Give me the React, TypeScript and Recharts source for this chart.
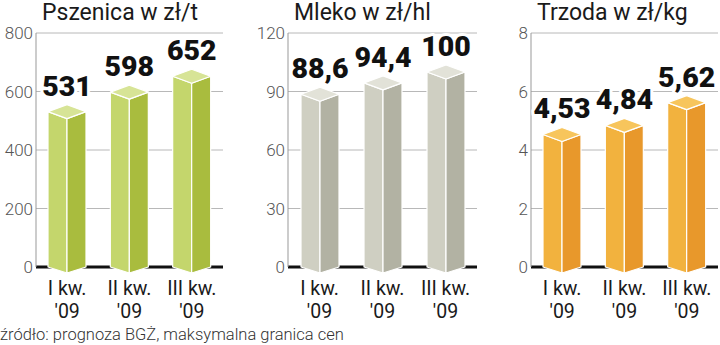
import { Bar, BarChart, CartesianGrid, LabelList, XAxis, YAxis } from "recharts";

const quarters = ["I kw.|'09", "II kw.|'09", "III kw.|'09"];
const wheatPrices = [531, 598, 652];
const milkPrices = [88.6, 94.4, 100];
const hogPrices = [4.53, 4.84, 5.62];
const wheatTicks = [0, 200, 400, 600, 800];
const milkTicks = [0, 30, 60, 90, 120];
const hogTicks = [0, 2, 4, 6, 8];

const FONT = "Roboto, 'Noto Sans', sans-serif";
const PLOT_BOTTOM = 267;

type Palette = { left: string; right: string; top: string };

const green: Palette = { left: "#c4d66c", right: "#a9bc3e", top: "#d7e496" };
const gray: Palette = { left: "#cfcfc2", right: "#b2b2a3", top: "#e2e2d8" };
const orange: Palette = { left: "#f2b23e", right: "#e8982b", top: "#f7c55c" };

const fmt = (v: number) => String(v).replace(".", ",");

function Prism(props: any) {
  const { x, y, width, height, palette } = props;
  const cx = x + width / 2;
  const d = 7;
  const base = y + height;
  const tip = 6;
  const line = { stroke: "#fff", strokeWidth: 1.2, strokeLinejoin: "round" as const };
  return (
    <g>
      <polygon
        points={`${x},${y} ${cx},${y + d} ${cx},${base + tip} ${x},${base}`}
        fill={palette.left}
        {...line}
      />
      <polygon
        points={`${cx},${y + d} ${x + width},${y} ${x + width},${base} ${cx},${base + tip}`}
        fill={palette.right}
        {...line}
      />
      <polygon
        points={`${x},${y} ${cx},${y - d} ${x + width},${y} ${cx},${y + d}`}
        fill={palette.top}
        {...line}
      />
    </g>
  );
}

function GridLine(props: any) {
  const { x1, x2, y1, y2 } = props;
  const zero = Math.abs(y1 - PLOT_BOTTOM) < 1;
  return (
    <line
      key={`g-${y1}`}
      x1={x1}
      x2={x2}
      y1={y1}
      y2={y2}
      stroke={zero ? "#111" : "#b8b8b8"}
      strokeWidth={zero ? 3 : 1}
    />
  );
}

function QuarterTick(props: any) {
  const { x, y, payload } = props;
  const [l1, l2] = String(payload.value).split("|");
  return (
    <g>
      <text x={x} y={y + 28} textAnchor="middle" fontSize={19.5} fontFamily={FONT} fontWeight={400} fill="#1a1a1a">
        {l1}
      </text>
      <text x={x} y={y + 50.5} textAnchor="middle" fontSize={19.5} fontFamily={FONT} fontWeight={400} fill="#1a1a1a">
        {l2}
      </text>
    </g>
  );
}

function ValueLabel(props: any) {
  const { x, y, width, value } = props;
  return (
    <text
      x={Number(x) + Number(width) / 2}
      y={Number(y) - 16}
      textAnchor="middle"
      fontSize={28.5}
      fontWeight={900}
      fontFamily={FONT}
      fill="#111"
      stroke="#fff"
      strokeWidth={6}
      strokeLinejoin="round"
      paintOrder="stroke"
    >
      {fmt(value)}
    </text>
  );
}

function Panel({
  left,
  axisWidth,
  right,
  title,
  values,
  ticks,
  palette,
}: {
  left: number;
  axisWidth: number;
  right: number;
  title: string;
  values: number[];
  ticks: number[];
  palette: Palette;
}) {
  const rows = quarters.map((q, i) => ({ quarter: q, value: values[i] }));
  return (
    <div style={{ position: "absolute", left, top: 0, width: 240, height: 330 }}>
      <div
        style={{
          position: "absolute",
          left: axisWidth + 6,
          top: 1,
          fontFamily: FONT,
          fontSize: 23,
          lineHeight: "23px",
          fontWeight: 400,
          color: "#1a1a1a",
          whiteSpace: "nowrap",
        }}
      >
        {title}
      </div>
      <BarChart
        width={240}
        height={330}
        data={rows}
        margin={{ top: 33, right, bottom: 0, left: 0 }}
        style={{ position: "absolute", left: 0, top: 0 }}
      >
        <CartesianGrid vertical={false} horizontal={GridLine} />
        <XAxis
          dataKey="quarter"
          height={63}
          axisLine={false}
          tickLine={false}
          tickSize={0}
          tickMargin={0}
          interval={0}
          tick={QuarterTick}
        />
        <YAxis
          width={axisWidth}
          domain={[ticks[0], ticks[ticks.length - 1]]}
          ticks={ticks}
          axisLine={{ stroke: "#999" }}
          tickLine={false}
          tickSize={0}
          tickMargin={3}
          tick={{ fill: "#555", fontSize: 17, fontFamily: FONT, fontWeight: 300 }}
        />
        <Bar
          dataKey="value"
          barSize={38}
          isAnimationActive={false}
          shape={(p: any) => <Prism {...p} palette={palette} />}
        >
          <LabelList dataKey="value" content={ValueLabel} />
        </Bar>
      </BarChart>
    </div>
  );
}

export default function App() {
  return (
    <div
      style={{
        position: "absolute",
        left: 0,
        top: 0,
        width: 720,
        height: 345,
        background: "#fff",
        overflow: "hidden",
      }}
    >
      <Panel left={0} axisWidth={36} right={17} title="Pszenica w zł/t" values={wheatPrices} ticks={wheatTicks} palette={green} />
      <Panel left={240} axisWidth={48} right={3} title="Mleko w zł/hl" values={milkPrices} ticks={milkTicks} palette={gray} />
      <Panel left={480} axisWidth={51} right={2} title="Trzoda w zł/kg" values={hogPrices} ticks={hogTicks} palette={orange} />
      <div
        style={{
          position: "absolute",
          left: 0,
          top: 327,
          fontFamily: FONT,
          fontSize: 16.5,
          lineHeight: "16px",
          fontWeight: 300,
          color: "#333",
          whiteSpace: "nowrap",
        }}
      >
        źródło: prognoza BGŻ, maksymalna granica cen
      </div>
    </div>
  );
}
